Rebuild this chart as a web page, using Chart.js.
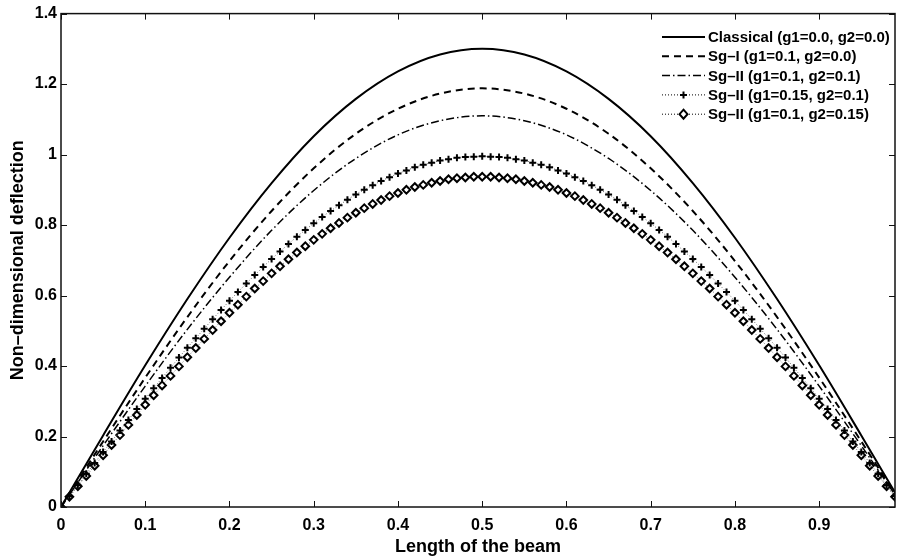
<!DOCTYPE html>
<html>
<head>
<meta charset="utf-8">
<script src="https://cdn.jsdelivr.net/npm/chart.js@4.4.1/dist/chart.umd.min.js"></script>
<style>
  html, body { margin: 0; padding: 0; background: #fff; }
  #wrap { width: 901px; height: 559px; }
</style>
</head>
<body>
<div id="wrap"><canvas id="beamChart" width="901" height="559"></canvas></div>
<script>
// x positions (fraction of beam length)
const xCoarse = [0, 0.05, 0.1, 0.15, 0.2, 0.25, 0.3, 0.35, 0.4, 0.45, 0.5,
    0.55, 0.6, 0.65, 0.7, 0.75, 0.8, 0.85, 0.9, 0.95, 0.99];
const xFine = [0, 0.01, 0.02, 0.03, 0.04, 0.05, 0.06, 0.07, 0.08, 0.09,
    0.1, 0.11, 0.12, 0.13, 0.14, 0.15, 0.16, 0.17, 0.18, 0.19,
    0.2, 0.21, 0.22, 0.23, 0.24, 0.25, 0.26, 0.27, 0.28, 0.29,
    0.3, 0.31, 0.32, 0.33, 0.34, 0.35, 0.36, 0.37, 0.38, 0.39,
    0.4, 0.41, 0.42, 0.43, 0.44, 0.45, 0.46, 0.47, 0.48, 0.49,
    0.5, 0.51, 0.52, 0.53, 0.54, 0.55, 0.56, 0.57, 0.58, 0.59,
    0.6, 0.61, 0.62, 0.63, 0.64, 0.65, 0.66, 0.67, 0.68, 0.69,
    0.7, 0.71, 0.72, 0.73, 0.74, 0.75, 0.76, 0.77, 0.78, 0.79,
    0.8, 0.81, 0.82, 0.83, 0.84, 0.85, 0.86, 0.87, 0.88, 0.89,
    0.9, 0.91, 0.92, 0.93, 0.94, 0.95, 0.96, 0.97, 0.98, 0.99];

// deflection values
const classical = [0, 0.203, 0.402, 0.590, 0.764, 0.919, 1.052, 1.158, 1.236, 1.284, 1.300,
    1.284, 1.236, 1.158, 1.052, 0.919, 0.764, 0.590, 0.402, 0.203, 0.041];
const sgI = [0, 0.186, 0.367, 0.539, 0.698, 0.840, 0.961, 1.059, 1.130, 1.173, 1.188,
    1.173, 1.130, 1.059, 0.961, 0.840, 0.698, 0.539, 0.367, 0.186, 0.037];
const sgII = [0, 0.174, 0.343, 0.504, 0.652, 0.785, 0.898, 0.989, 1.056, 1.096, 1.110,
    1.096, 1.056, 0.989, 0.898, 0.785, 0.652, 0.504, 0.343, 0.174, 0.035];
const sgIIplus = [0, 0.031, 0.062, 0.094, 0.125, 0.156, 0.186, 0.217, 0.247, 0.278,
    0.307, 0.337, 0.366, 0.395, 0.424, 0.452, 0.479, 0.506, 0.533, 0.559,
    0.585, 0.610, 0.634, 0.658, 0.681, 0.704, 0.725, 0.746, 0.767, 0.786,
    0.805, 0.823, 0.840, 0.856, 0.872, 0.887, 0.900, 0.913, 0.925, 0.936,
    0.946, 0.955, 0.964, 0.971, 0.977, 0.983, 0.987, 0.991, 0.993, 0.994,
    0.995, 0.994, 0.993, 0.991, 0.987, 0.983, 0.977, 0.971, 0.964, 0.955,
    0.946, 0.936, 0.925, 0.913, 0.900, 0.887, 0.872, 0.856, 0.840, 0.823,
    0.805, 0.786, 0.767, 0.746, 0.725, 0.704, 0.681, 0.658, 0.634, 0.610,
    0.585, 0.559, 0.533, 0.506, 0.479, 0.452, 0.424, 0.395, 0.366, 0.337,
    0.307, 0.278, 0.247, 0.217, 0.186, 0.156, 0.125, 0.094, 0.062, 0.031];
const sgIIdiamond = [0, 0.029, 0.059, 0.088, 0.117, 0.147, 0.176, 0.204, 0.233, 0.261,
    0.290, 0.317, 0.345, 0.372, 0.399, 0.425, 0.451, 0.477, 0.502, 0.527,
    0.551, 0.574, 0.597, 0.620, 0.641, 0.663, 0.683, 0.703, 0.722, 0.740,
    0.758, 0.775, 0.791, 0.806, 0.821, 0.835, 0.848, 0.860, 0.871, 0.882,
    0.891, 0.900, 0.908, 0.914, 0.920, 0.925, 0.930, 0.933, 0.935, 0.937,
    0.937, 0.937, 0.935, 0.933, 0.930, 0.925, 0.920, 0.914, 0.908, 0.900,
    0.891, 0.882, 0.871, 0.860, 0.848, 0.835, 0.821, 0.806, 0.791, 0.775,
    0.758, 0.740, 0.722, 0.703, 0.683, 0.663, 0.641, 0.620, 0.597, 0.574,
    0.551, 0.527, 0.502, 0.477, 0.451, 0.425, 0.399, 0.372, 0.345, 0.317,
    0.290, 0.261, 0.233, 0.204, 0.176, 0.147, 0.117, 0.088, 0.059, 0.029];

const seriesLabels = [
    'Classical (g1=0.0, g2=0.0)',
    'Sg\u2013I (g1=0.1, g2=0.0)',
    'Sg\u2013II (g1=0.1, g2=0.1)',
    'Sg\u2013II (g1=0.15, g2=0.1)',
    'Sg\u2013II (g1=0.1, g2=0.15)',
];

const FONT = '"Liberation Sans", Arial, Helvetica, sans-serif';

function pts(xs, ys) {
    return xs.map((x, i) => ({ x: x, y: ys[i] }));
}

const fmt = v => String(Number(v.toFixed(1)));

// Box and inward ticks, MATLAB style
const boxTicks = {
    id: 'boxTicks',
    afterDraw(chart) {
        const { ctx, chartArea: a, scales } = chart;
        const len = 6;
        ctx.save();
        ctx.strokeStyle = '#111';
        ctx.lineWidth = 1.5;
        ctx.strokeRect(a.left, a.top, a.right - a.left, a.bottom - a.top);
        ctx.lineWidth = 1;
        ctx.beginPath();
        scales.x.ticks.forEach(t => {
            const px = Math.round(scales.x.getPixelForValue(t.value)) + 0.5;
            ctx.moveTo(px, a.bottom); ctx.lineTo(px, a.bottom - len);
            ctx.moveTo(px, a.top); ctx.lineTo(px, a.top + len);
        });
        scales.y.ticks.forEach(t => {
            const py = Math.round(scales.y.getPixelForValue(t.value)) + 0.5;
            ctx.moveTo(a.left, py); ctx.lineTo(a.left + len, py);
            ctx.moveTo(a.right, py); ctx.lineTo(a.right - len, py);
        });
        ctx.stroke();
        ctx.restore();
    }
};

// Legend drawn inside the plot, top right, no frame
const innerLegend = {
    id: 'innerLegend',
    afterDraw(chart) {
        const { ctx } = chart;
        const x0 = 662, x1 = 705, y0 = 37, dy = 19.3;
        ctx.save();
        ctx.font = 'bold 15px ' + FONT;
        ctx.textBaseline = 'middle';
        chart.data.datasets.forEach((ds, i) => {
            const y = y0 + i * dy;
            ctx.strokeStyle = '#000';
            ctx.lineWidth = ds.legendWidth;
            ctx.setLineDash(ds.borderDash || []);
            ctx.beginPath();
            ctx.moveTo(x0, y); ctx.lineTo(x1, y);
            ctx.stroke();
            ctx.setLineDash([]);
            const cx = (x0 + x1) / 2;
            if (ds.pointStyle === 'cross') {
                ctx.lineWidth = 2;
                ctx.beginPath();
                ctx.moveTo(cx - 3.5, y); ctx.lineTo(cx + 3.5, y);
                ctx.moveTo(cx, y - 3.5); ctx.lineTo(cx, y + 3.5);
                ctx.stroke();
            } else if (ds.pointStyle === 'rectRot') {
                ctx.lineWidth = 2;
                ctx.fillStyle = '#fff';
                ctx.beginPath();
                ctx.moveTo(cx, y - 4.5); ctx.lineTo(cx + 4, y);
                ctx.lineTo(cx, y + 4.5); ctx.lineTo(cx - 4, y);
                ctx.closePath();
                ctx.fill(); ctx.stroke();
            }
            ctx.fillStyle = '#000';
            ctx.fillText(ds.label, x1 + 3, y + 1);
        });
        ctx.restore();
    }
};

const ctxEl = document.getElementById('beamChart');

const beamChart = new Chart(ctxEl, {
    type: 'line',
    data: {
        datasets: [
            {
                label: seriesLabels[0],
                data: pts(xCoarse, classical),
                borderColor: '#000',
                borderWidth: 2,
                legendWidth: 2,
                pointRadius: 0,
                cubicInterpolationMode: 'monotone',
            },
            {
                label: seriesLabels[1],
                data: pts(xCoarse, sgI),
                borderColor: '#000',
                borderWidth: 2,
                legendWidth: 2,
                borderDash: [7, 5],
                pointRadius: 0,
                cubicInterpolationMode: 'monotone',
            },
            {
                label: seriesLabels[2],
                data: pts(xCoarse, sgII),
                borderColor: '#000',
                borderWidth: 1.5,
                legendWidth: 1.5,
                borderDash: [8, 3, 1.5, 3],
                pointRadius: 0,
                cubicInterpolationMode: 'monotone',
            },
            {
                label: seriesLabels[3],
                data: pts(xFine, sgIIplus),
                borderColor: '#666',
                borderWidth: 1,
                legendWidth: 1,
                borderDash: [1, 2],
                pointStyle: 'cross',
                pointRadius: 3.5,
                pointBorderWidth: 2,
                pointBorderColor: '#000',
                cubicInterpolationMode: 'monotone',
            },
            {
                label: seriesLabels[4],
                data: pts(xFine, sgIIdiamond),
                borderColor: '#666',
                borderWidth: 1,
                legendWidth: 1,
                borderDash: [1, 2],
                pointStyle: 'rectRot',
                pointRadius: 3.8,
                pointBorderWidth: 2,
                pointBorderColor: '#000',
                pointBackgroundColor: '#fff',
                cubicInterpolationMode: 'monotone',
            },
        ],
    },
    options: {
        responsive: false,
        animation: false,
        events: [],
        layout: { padding: { top: 13, right: 2, left: 0, bottom: 0 } },
        plugins: {
            legend: { display: false },
            tooltip: { enabled: false },
        },
        scales: {
            x: {
                type: 'linear',
                min: 0,
                max: 0.99,
                grid: { display: false, drawTicks: false },
                border: { display: false },
                afterBuildTicks: s => { s.ticks = s.ticks.filter(t => t.value <= 0.95); },
                afterFit: s => { s.height = 52; },
                ticks: {
                    stepSize: 0.1,
                    padding: 9,
                    color: '#000',
                    font: { family: FONT, size: 16, weight: 'bold' },
                    callback: fmt,
                    maxRotation: 0,
                },
                title: {
                    display: true,
                    text: 'Length of the beam',
                    color: '#000',
                    font: { family: FONT, size: 18, weight: 'bold' },
                    padding: { top: 0, bottom: 1 },
                },
            },
            y: {
                min: 0,
                max: 1.4,
                grid: { display: false, drawTicks: false },
                border: { display: false },
                afterFit: s => { s.width = 61; },
                ticks: {
                    stepSize: 0.2,
                    padding: 4,
                    color: '#000',
                    font: { family: FONT, size: 16, weight: 'bold' },
                    callback: fmt,
                },
                title: {
                    display: true,
                    text: 'Non\u2013dimensional deflection',
                    color: '#000',
                    font: { family: FONT, size: 18, weight: 'bold' },
                    padding: { top: 7, bottom: 0 },
                },
            },
        },
    },
    plugins: [boxTicks, innerLegend],
});
</script>
</body>
</html>
